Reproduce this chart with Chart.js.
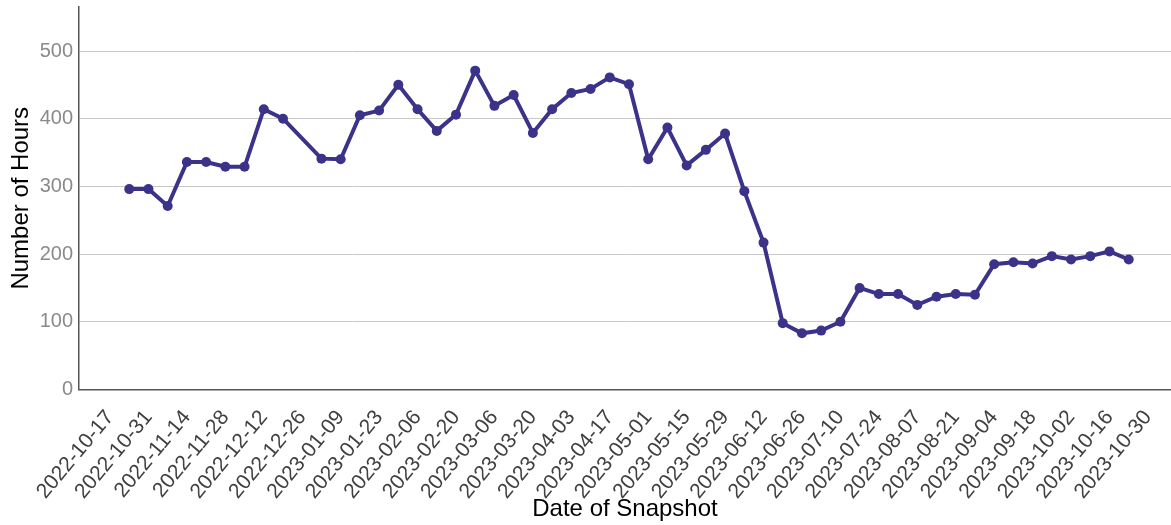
<!DOCTYPE html>
<html>
<head>
<meta charset="utf-8">
<script src="https://cdn.jsdelivr.net/npm/chart.js@4.4.1/dist/chart.umd.min.js"></script>
<style>
  html, body { margin: 0; padding: 0; background: #ffffff; overflow: hidden; }
  #c { display: block; }
</style>
</head>
<body>
<canvas id="c" width="1171" height="525"></canvas>
<script>
// ---- Data ----
const snapshotDates = [
  "2022-10-24","2022-10-31","2022-11-07","2022-11-14","2022-11-21","2022-11-28",
  "2022-12-05","2022-12-12","2022-12-19",
  "2023-01-02","2023-01-09","2023-01-16","2023-01-23","2023-01-30","2023-02-06",
  "2023-02-13","2023-02-20","2023-02-27","2023-03-06","2023-03-13","2023-03-20",
  "2023-03-27","2023-04-03","2023-04-10","2023-04-17","2023-04-24","2023-05-01",
  "2023-05-08","2023-05-15","2023-05-22","2023-05-29","2023-06-05","2023-06-12",
  "2023-06-19","2023-06-26","2023-07-03","2023-07-10","2023-07-17","2023-07-24",
  "2023-07-31","2023-08-07","2023-08-14","2023-08-21","2023-08-28","2023-09-04",
  "2023-09-11","2023-09-18","2023-09-25","2023-10-02","2023-10-09","2023-10-16",
  "2023-10-23"
];
const hours = [
  296, 296, 271, 336, 336, 329,
  329, 414, 400,
  341, 340, 405, 412, 450, 414,
  382, 406, 471, 419, 435, 379,
  414, 438, 444, 461, 451, 340,
  387, 331, 354, 378, 293, 217,
  98, 83, 87, 100, 150, 141,
  141, 125, 137, 141, 140, 185,
  188, 186, 197, 192, 197, 204,
  192
];
const xTickLabels = [
  "2022-10-17","2022-10-31","2022-11-14","2022-11-28","2022-12-12","2022-12-26",
  "2023-01-09","2023-01-23","2023-02-06","2023-02-20","2023-03-06","2023-03-20",
  "2023-04-03","2023-04-17","2023-05-01","2023-05-15","2023-05-29","2023-06-12",
  "2023-06-26","2023-07-10","2023-07-24","2023-08-07","2023-08-21","2023-09-04",
  "2023-09-18","2023-10-02","2023-10-16","2023-10-30"
];
const yTickValues = [0, 100, 200, 300, 400, 500];

// ---- Helpers ----
const DAY = 86400000;
function dayNum(s) {
  const p = s.split("-").map(Number);
  return Date.UTC(p[0], p[1] - 1, p[2]) / DAY;
}
const origin = dayNum(xTickLabels[0]);
const points = snapshotDates.map((d, i) => ({ x: dayNum(d) - origin, y: hours[i] }));
const tickMap = {};
xTickLabels.forEach(s => { tickMap[dayNum(s) - origin] = s; });

Chart.defaults.font.family = "'Liberation Sans', Arial, sans-serif";

new Chart(document.getElementById("c"), {
  type: "line",
  data: {
    datasets: [{
      data: points,
      borderColor: "#3b3389",
      backgroundColor: "#3b3389",
      borderWidth: 4,
      pointRadius: 5,
      pointBorderWidth: 0,
      pointBackgroundColor: "#3b3389",
      tension: 0,
      fill: false,
      clip: false
    }]
  },
  options: {
    responsive: false,
    animation: false,
    layout: { autoPadding: false, padding: { top: 7, right: 0, bottom: 0, left: 0 } },
    plugins: { legend: { display: false }, tooltip: { enabled: false } },
    scales: {
      x: {
        type: "linear",
        min: -11.3,
        max: 386.4,
        grid: { display: false, drawTicks: false },
        border: { display: true, color: "#555555", width: 1.5 },
        afterBuildTicks: (s) => { s.ticks = xTickLabels.map(l => ({ value: dayNum(l) - origin })); },
        afterFit: (s) => { s.height = 135.5; s.paddingLeft = 0; s.paddingRight = 0; },
        ticks: {
          autoSkip: false,
          minRotation: 50,
          maxRotation: 50,
          padding: 16,
          color: "#404040",
          font: { size: 21 },
          callback: (v) => tickMap[v] || ""
        },
        title: {
          display: true,
          text: "Date of Snapshot",
          color: "#000000",
          font: { size: 24 },
          padding: { top: 0, bottom: 1 }
        }
      },
      y: {
        type: "linear",
        min: 0,
        max: 565,
        grid: { color: "#c8c8c8", lineWidth: 1, drawTicks: false },
        border: { display: true, color: "#555555", width: 1.5 },
        afterBuildTicks: (s) => { s.ticks = yTickValues.map(v => ({ value: v })); },
        afterFit: (s) => { s.width = 79; s.paddingTop = 0; s.paddingBottom = 0; },
        ticks: {
          padding: 6,
          color: "#8a8a8a",
          font: { size: 20 }
        },
        title: {
          display: true,
          text: "Number of Hours",
          color: "#000000",
          font: { size: 24 },
          padding: { top: 7, bottom: 0 }
        }
      }
    }
  }
});
</script>
</body>
</html>
